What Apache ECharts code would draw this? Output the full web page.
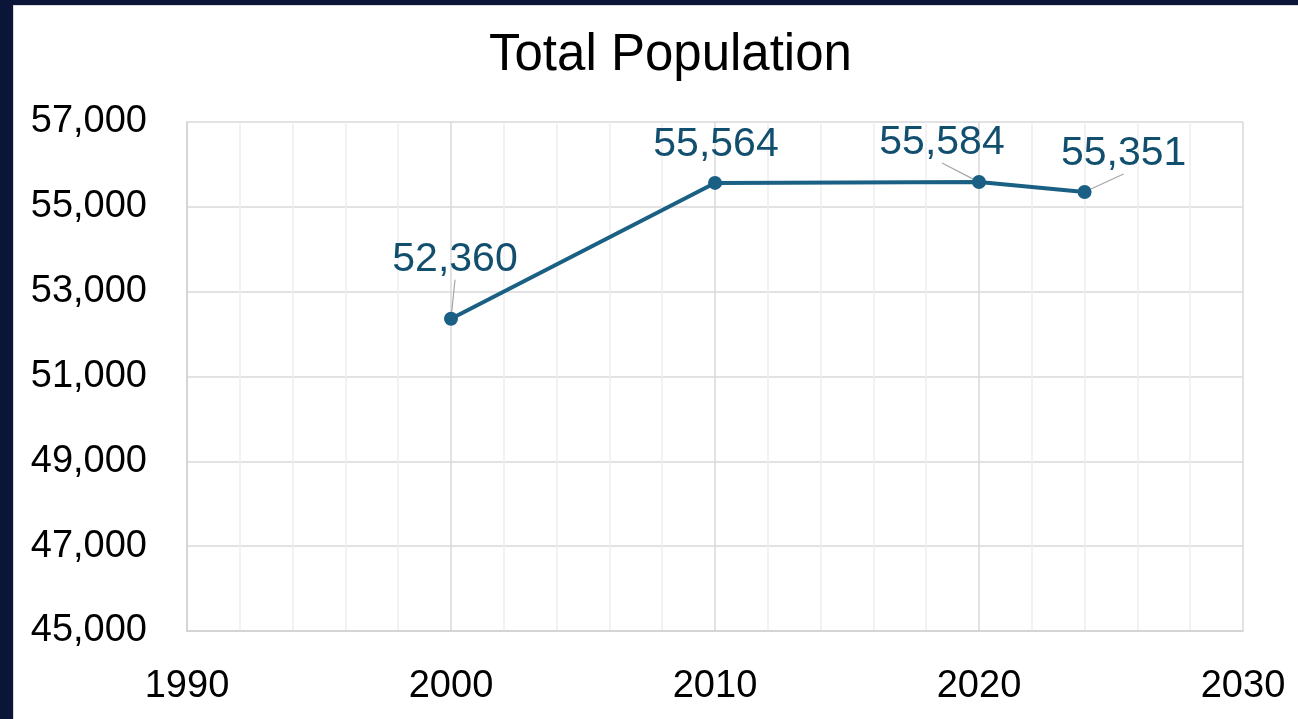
<!DOCTYPE html>
<html>
<head>
<meta charset="utf-8">
<script src="https://cdn.jsdelivr.net/npm/echarts@6/dist/echarts.min.js"></script>
<style>
html,body{margin:0;padding:0;width:1298px;height:719px;background:#0b1538;overflow:hidden;}
#wrap{position:absolute;left:13px;top:5px;width:1284px;height:713px;background:#fff;border-left:1px solid #d9d9d9;border-top:1px solid #d9d9d9;}
#chart{width:1284px;height:713px;}
</style>
</head>
<body>
<div id="wrap"><div id="chart"></div></div>
<script>
var titleText = 'Total Population';
var years = [2000, 2010, 2020, 2024];
var population = [52360, 55564, 55584, 55351];
var xTicks = [1990, 2000, 2010, 2020, 2030];
var yTicks = [45000, 47000, 49000, 51000, 53000, 55000, 57000];

var labelOffsets = [[4, -27, true], [1, -6, false], [-37, -7, true], [39, -6, true]];

var seriesData = years.map(function (y, i) {
  return {
    value: [y, population[i]],
    labelLine: { show: labelOffsets[i][2] }
  };
});

var chart = echarts.init(document.getElementById('chart'));
var font = '"Liberation Sans", Arial, sans-serif';
chart.setOption({
  animation: false,
  title: {
    text: titleText,
    left: 475,
    top: 24,
    padding: 0,
    textStyle: { fontFamily: font, fontSize: 51, fontWeight: 'normal', color: '#000' }
  },
  grid: { left: 173, top: 116, right: 55, bottom: 88, containLabel: false },
  xAxis: {
    type: 'value',
    min: xTicks[0],
    max: xTicks[xTicks.length - 1],
    interval: xTicks[1] - xTicks[0],
    axisLine: { show: true, lineStyle: { color: '#d0d0d0', width: 1.5 } },
    axisTick: { show: false },
    axisLabel: { fontFamily: font, fontSize: 38, color: '#000', margin: 37, formatter: function (v) { return String(v); } },
    splitLine: { show: true, lineStyle: { color: '#d9d9d9', width: 1.5 } },
    minorTick: { show: false, splitNumber: 5 },
    minorSplitLine: { show: true, lineStyle: { color: '#eeeeee', width: 1.5 } }
  },
  yAxis: {
    type: 'value',
    min: yTicks[0],
    max: yTicks[yTicks.length - 1],
    interval: yTicks[1] - yTicks[0],
    axisLine: { show: true, lineStyle: { color: '#d0d0d0', width: 1.5 } },
    axisTick: { show: false },
    axisLabel: {
      fontFamily: font, fontSize: 38, color: '#000', margin: 40,
      padding: [6, 0, 0, 0],
      formatter: function (v) { return v.toLocaleString('en-US'); }
    },
    splitLine: { show: true, lineStyle: { color: '#d9d9d9', width: 1.5 } }
  },
  series: [{
    type: 'line',
    data: seriesData,
    symbol: 'circle',
    symbolSize: 14,
    lineStyle: { color: '#1a5f84', width: 4 },
    itemStyle: { color: '#1a5f84' },
    label: {
      show: true,
      position: 'top',
      distance: 5,
      fontFamily: font,
      fontSize: 41,
      color: '#124f6e',
      formatter: function (p) { return p.value[1].toLocaleString('en-US'); }
    },
    labelLine: { show: true, lineStyle: { color: '#a6a6a6', width: 1.2 } },
    labelLayout: function (params) {
      var o = labelOffsets[params.dataIndex];
      return { dx: o[0], dy: o[1] };
    }
  }]
});
</script>
</body>
</html>
